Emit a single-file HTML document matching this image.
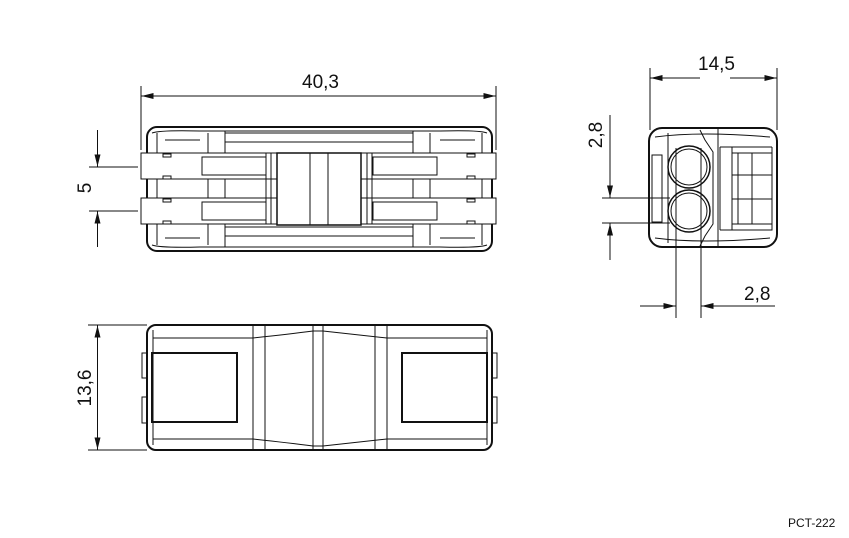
<!DOCTYPE html>
<html><head><meta charset="utf-8"><style>
html,body{margin:0;padding:0;background:#fff;}
svg{display:block;}
text{font-family:"Liberation Sans",Arial,sans-serif;fill:#111;}
</style></head><body>
<svg width="849" height="538" viewBox="0 0 849 538" xmlns="http://www.w3.org/2000/svg">
<defs>
<marker id="a" viewBox="0 0 12 6" refX="12" refY="3" markerWidth="12" markerHeight="6" markerUnits="userSpaceOnUse" orient="auto"><path d="M0,0 L12,3 L0,6 z" fill="#111"/></marker>
</defs>
<g stroke="#111" fill="none" stroke-width="1">
<!-- 40,3 dimension -->
<line x1="141" y1="86" x2="141" y2="150"/>
<line x1="496" y1="86" x2="496" y2="150"/>
<line x1="190" y1="96" x2="141.5" y2="96" marker-end="url(#a)"/>
<line x1="440" y1="96" x2="495.5" y2="96" marker-end="url(#a)"/>
<line x1="180" y1="96" x2="460" y2="96"/>
<!-- 5 dimension -->
<line x1="89" y1="167" x2="138" y2="167"/>
<line x1="89" y1="211" x2="138" y2="211"/>
<line x1="97.5" y1="130" x2="97.5" y2="166.5" marker-end="url(#a)"/>
<line x1="97.5" y1="247" x2="97.5" y2="211.5" marker-end="url(#a)"/>
<!-- top view body -->
<rect x="147" y="127" width="345" height="124" rx="10" stroke-width="2"/>
<path d="M152,133 Q160,130 200,131 L440,131 Q480,130 487,133"/>
<path d="M152,245 Q160,248 200,247 L440,247 Q480,248 487,245"/>
<line x1="225" y1="133" x2="413" y2="133"/>
<line x1="225" y1="142" x2="413" y2="142"/>
<line x1="225" y1="227" x2="413" y2="227"/>
<line x1="225" y1="236" x2="413" y2="236"/>
<line x1="208" y1="133" x2="208" y2="245"/><line x1="225" y1="131" x2="225" y2="247"/>
<line x1="430" y1="133" x2="430" y2="245"/><line x1="413" y1="131" x2="413" y2="247"/>
<line x1="157" y1="133" x2="157" y2="245"/><line x1="482" y1="133" x2="482" y2="245"/>
<line x1="165" y1="140" x2="200" y2="140"/><line x1="440" y1="140" x2="475" y2="140"/>
<line x1="165" y1="238" x2="200" y2="238"/><line x1="440" y1="238" x2="475" y2="238"/>
<!-- bars -->
<rect x="141" y="153" width="136" height="26" fill="#fff"/>
<rect x="141" y="198" width="136" height="26" fill="#fff"/>
<rect x="361" y="153" width="135" height="26" fill="#fff"/>
<rect x="361" y="198" width="135" height="26" fill="#fff"/>
<rect x="202" y="157" width="64" height="18"/>
<rect x="202" y="202" width="64" height="18"/>
<rect x="373" y="157" width="64" height="18"/>
<rect x="373" y="202" width="64" height="18"/>
<line x1="266" y1="153" x2="266" y2="224"/><line x1="271" y1="153" x2="271" y2="224"/>
<line x1="367" y1="153" x2="367" y2="224"/><line x1="372" y1="153" x2="372" y2="224"/>
<rect x="277" y="153" width="84" height="72" stroke-width="1.5"/>
<line x1="310" y1="153" x2="310" y2="225"/><line x1="328" y1="153" x2="328" y2="225"/>
<rect x="163" y="154" width="8" height="3"/><rect x="163" y="176" width="8" height="3"/>
<rect x="163" y="199" width="8" height="3"/><rect x="163" y="221" width="8" height="3"/>
<rect x="467" y="154" width="8" height="3"/><rect x="467" y="176" width="8" height="3"/>
<rect x="467" y="199" width="8" height="3"/><rect x="467" y="221" width="8" height="3"/>
<!-- 14,5 dimension -->
<line x1="650" y1="68" x2="650" y2="130"/>
<line x1="777" y1="68" x2="777" y2="130"/>
<line x1="700" y1="78" x2="650.5" y2="78" marker-end="url(#a)"/>
<line x1="730" y1="78" x2="776.5" y2="78" marker-end="url(#a)"/>
<!-- side view body -->
<rect x="649" y="128" width="128" height="119" rx="13" stroke-width="2"/>
<path d="M655,137 Q700,131 770,137"/><path d="M655,238 Q700,244 770,238"/>
<rect x="652" y="155" width="10" height="67"/>
<line x1="668" y1="133" x2="668" y2="243"/>
<path d="M700,130 L705,140 L713,152 L713,224 L705,236 L700,246"/>
<line x1="718" y1="128" x2="718" y2="247"/>
<circle cx="689" cy="167" r="21" stroke-width="1.5"/><circle cx="689" cy="167" r="18"/>
<circle cx="689" cy="211" r="21" stroke-width="1.5"/><circle cx="689" cy="211" r="18"/>
<line x1="676" y1="148" x2="676" y2="230"/><line x1="701" y1="148" x2="701" y2="230"/>
<path d="M772,147 L732,147 L732,230 L772,230 L772,147"/>
<line x1="720" y1="147" x2="732" y2="147"/><line x1="720" y1="230" x2="732" y2="230"/>
<line x1="720" y1="147" x2="720" y2="230"/>
<line x1="732" y1="153" x2="772" y2="153"/><line x1="732" y1="224" x2="772" y2="224"/>
<line x1="738" y1="153" x2="738" y2="224"/><line x1="752" y1="153" x2="752" y2="224"/>
<line x1="732" y1="175" x2="772" y2="175"/><line x1="732" y1="199" x2="772" y2="199"/>
<!-- 2,8 vertical -->
<line x1="602" y1="198" x2="670" y2="198"/>
<line x1="602" y1="223" x2="670" y2="223"/>
<line x1="610" y1="115" x2="610" y2="197.5" marker-end="url(#a)"/>
<line x1="610" y1="260" x2="610" y2="223.5" marker-end="url(#a)"/>
<!-- 2,8 horizontal -->
<line x1="676" y1="230" x2="676" y2="318"/>
<line x1="701" y1="230" x2="701" y2="318"/>
<line x1="640" y1="306" x2="675.5" y2="306" marker-end="url(#a)"/>
<line x1="775" y1="306" x2="701.5" y2="306" marker-end="url(#a)"/>
<!-- bottom view -->
<line x1="88" y1="325" x2="147" y2="325"/>
<line x1="88" y1="450" x2="147" y2="450"/>
<line x1="97.5" y1="340" x2="97.5" y2="325.5" marker-end="url(#a)"/>
<line x1="97.5" y1="435" x2="97.5" y2="449.5" marker-end="url(#a)"/>
<line x1="97.5" y1="330" x2="97.5" y2="445"/>
<rect x="147" y="325" width="345" height="125" rx="9" stroke-width="2"/>
<path d="M153,338 L253,338 Q290,334 313,331 L323,331 Q350,334 387,338 L487,338"/>
<path d="M153,439 L253,439 Q290,443 313,446 L323,446 Q350,443 387,439 L487,439"/>
<line x1="253" y1="326" x2="253" y2="449"/><line x1="265" y1="326" x2="265" y2="449"/>
<line x1="313" y1="326" x2="313" y2="449"/><line x1="323" y1="326" x2="323" y2="449"/>
<line x1="375" y1="326" x2="375" y2="449"/><line x1="387" y1="326" x2="387" y2="449"/>
<line x1="153" y1="330" x2="153" y2="445"/><line x1="487" y1="330" x2="487" y2="445"/>
<rect x="152" y="353" width="85" height="69" stroke-width="2"/>
<rect x="402" y="353" width="85" height="69" stroke-width="2"/>
<rect x="142" y="353" width="5" height="25"/><rect x="142" y="397" width="5" height="26"/>
<rect x="492" y="353" width="5" height="25"/><rect x="492" y="397" width="5" height="26"/>
</g>
<text x="302" y="88" font-size="19">40,3</text>
<text x="698" y="70" font-size="19">14,5</text>
<text x="744" y="300" font-size="19">2,8</text>
<text transform="translate(91,188) rotate(-90)" font-size="19" text-anchor="middle">5</text>
<text transform="translate(91,388) rotate(-90)" font-size="19" text-anchor="middle">13,6</text>
<text transform="translate(602,135) rotate(-90)" font-size="19" text-anchor="middle">2,8</text>
<text x="788" y="527" font-size="12">PCT-222</text>
</svg>
</body></html>
